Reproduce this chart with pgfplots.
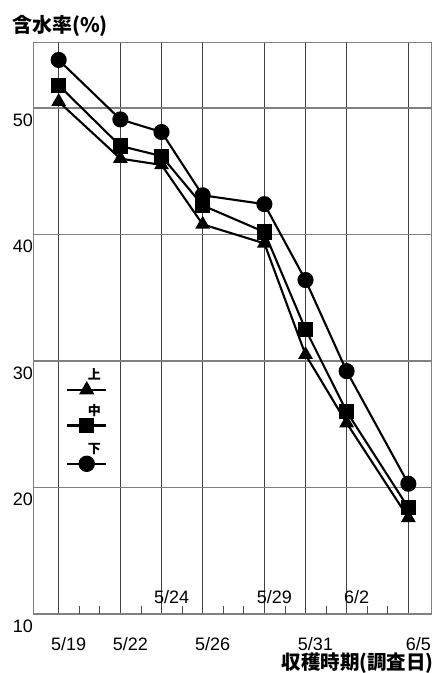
\documentclass[border=0pt]{standalone}
\usepackage{pgfplots}
\pgfplotsset{compat=1.18}
\usepackage{fontspec}
\setmainfont{Liberation Sans}
\newfontfamily\cjk{Noto Sans CJK JP}
\pgfplotsset{
  mylegend/.style={legend image code/.code={
    \draw[line width=2.4pt,mark repeat=2,mark phase=2,##1] plot coordinates {(0pt,0pt) (19.5pt,0pt) (39pt,0pt)};
    \node[font=\cjk\bfseries\fontsize{13}{13}\selectfont, inner sep=0pt, text=black] at (19.5pt,15pt) {#1};
  }}
}
\begin{document}
\begin{tikzpicture}
\begin{axis}[
  name=ax,
  scale only axis,
  width=398pt, height=571pt,
  xmin=17.8, xmax=37.15,
  ymin=10, ymax=55.14,
  xtick={19,22,24,26,29,31,33,36},
  xticklabels={5/19,5/22,\raisebox{46.5pt}{5/24},5/26,\raisebox{46.5pt}{5/29},5/31,\raisebox{46.5pt}{6/2},6/5},
  minor xtick={20,21,23,25,27,28,30,32,34,35},
  ytick={10,20,30,40,50},
  xmajorgrids, ymajorgrids,
  x grid style={draw=black!75, line width=1.6pt},
  y grid style={draw=black!50, line width=1.1pt},
  major tick length=0pt,
  minor tick length=8pt,
  xtick pos=bottom, ytick pos=left,
  minor tick style={draw=black!70, line width=0.8pt},
  axis line style={draw=black!50, line width=1pt},
  /pgf/number format/assume math mode=true,
  tick label style={font=\fontsize{18}{20}\selectfont},
  xticklabel style={anchor=base, xshift=10pt, yshift=-36pt},
  yticklabel style={anchor=east, inner sep=1pt, yshift=-12pt},
  legend style={draw=none, fill=none, at={(axis description cs:0.08,0.43)}, anchor=north west, row sep=11pt, inner sep=0pt},
  legend cell align=left,
]
\addplot[black, line width=2.1pt, mark=triangle*, mark size=6.5pt, mylegend={上}]
  coordinates {(19,50.5) (22,46.0) (24,45.5) (26,40.8) (29,39.3) (31,30.5) (33,25.1) (36,17.6)};
\addlegendentry{}
\addplot[black, line width=2.1pt, mark=square*, mark size=6.5pt, mylegend={中}]
  coordinates {(19,51.8) (22,47.0) (24,46.2) (26,42.3) (29,40.2) (31,32.5) (33,26.0) (36,18.4)};
\addlegendentry{}
\addplot[black, line width=2.1pt, mark=*, mark size=7pt, mylegend={下}]
  coordinates {(19,53.8) (22,49.1) (24,48.1) (26,43.1) (29,42.4) (31,36.4) (33,29.2) (36,20.3)};
\addlegendentry{}
\end{axis}
\node[font=\cjk\bfseries\fontsize{20}{20}\selectfont, anchor=west, inner sep=0pt] at ([xshift=-22pt,yshift=17.5pt]ax.north west) {含水率(\%)};
\node[font=\cjk\bfseries\fontsize{19.5}{20}\selectfont, anchor=east, inner sep=0pt] at ([xshift=2pt,yshift=-49pt]ax.south east) {収穫時期(調査日)};
\pgfresetboundingbox
\useasboundingbox ([xshift=-34pt,yshift=-59pt]ax.south west) rectangle ([xshift=4pt,yshift=43pt]ax.north east);
\end{tikzpicture}
\end{document}
